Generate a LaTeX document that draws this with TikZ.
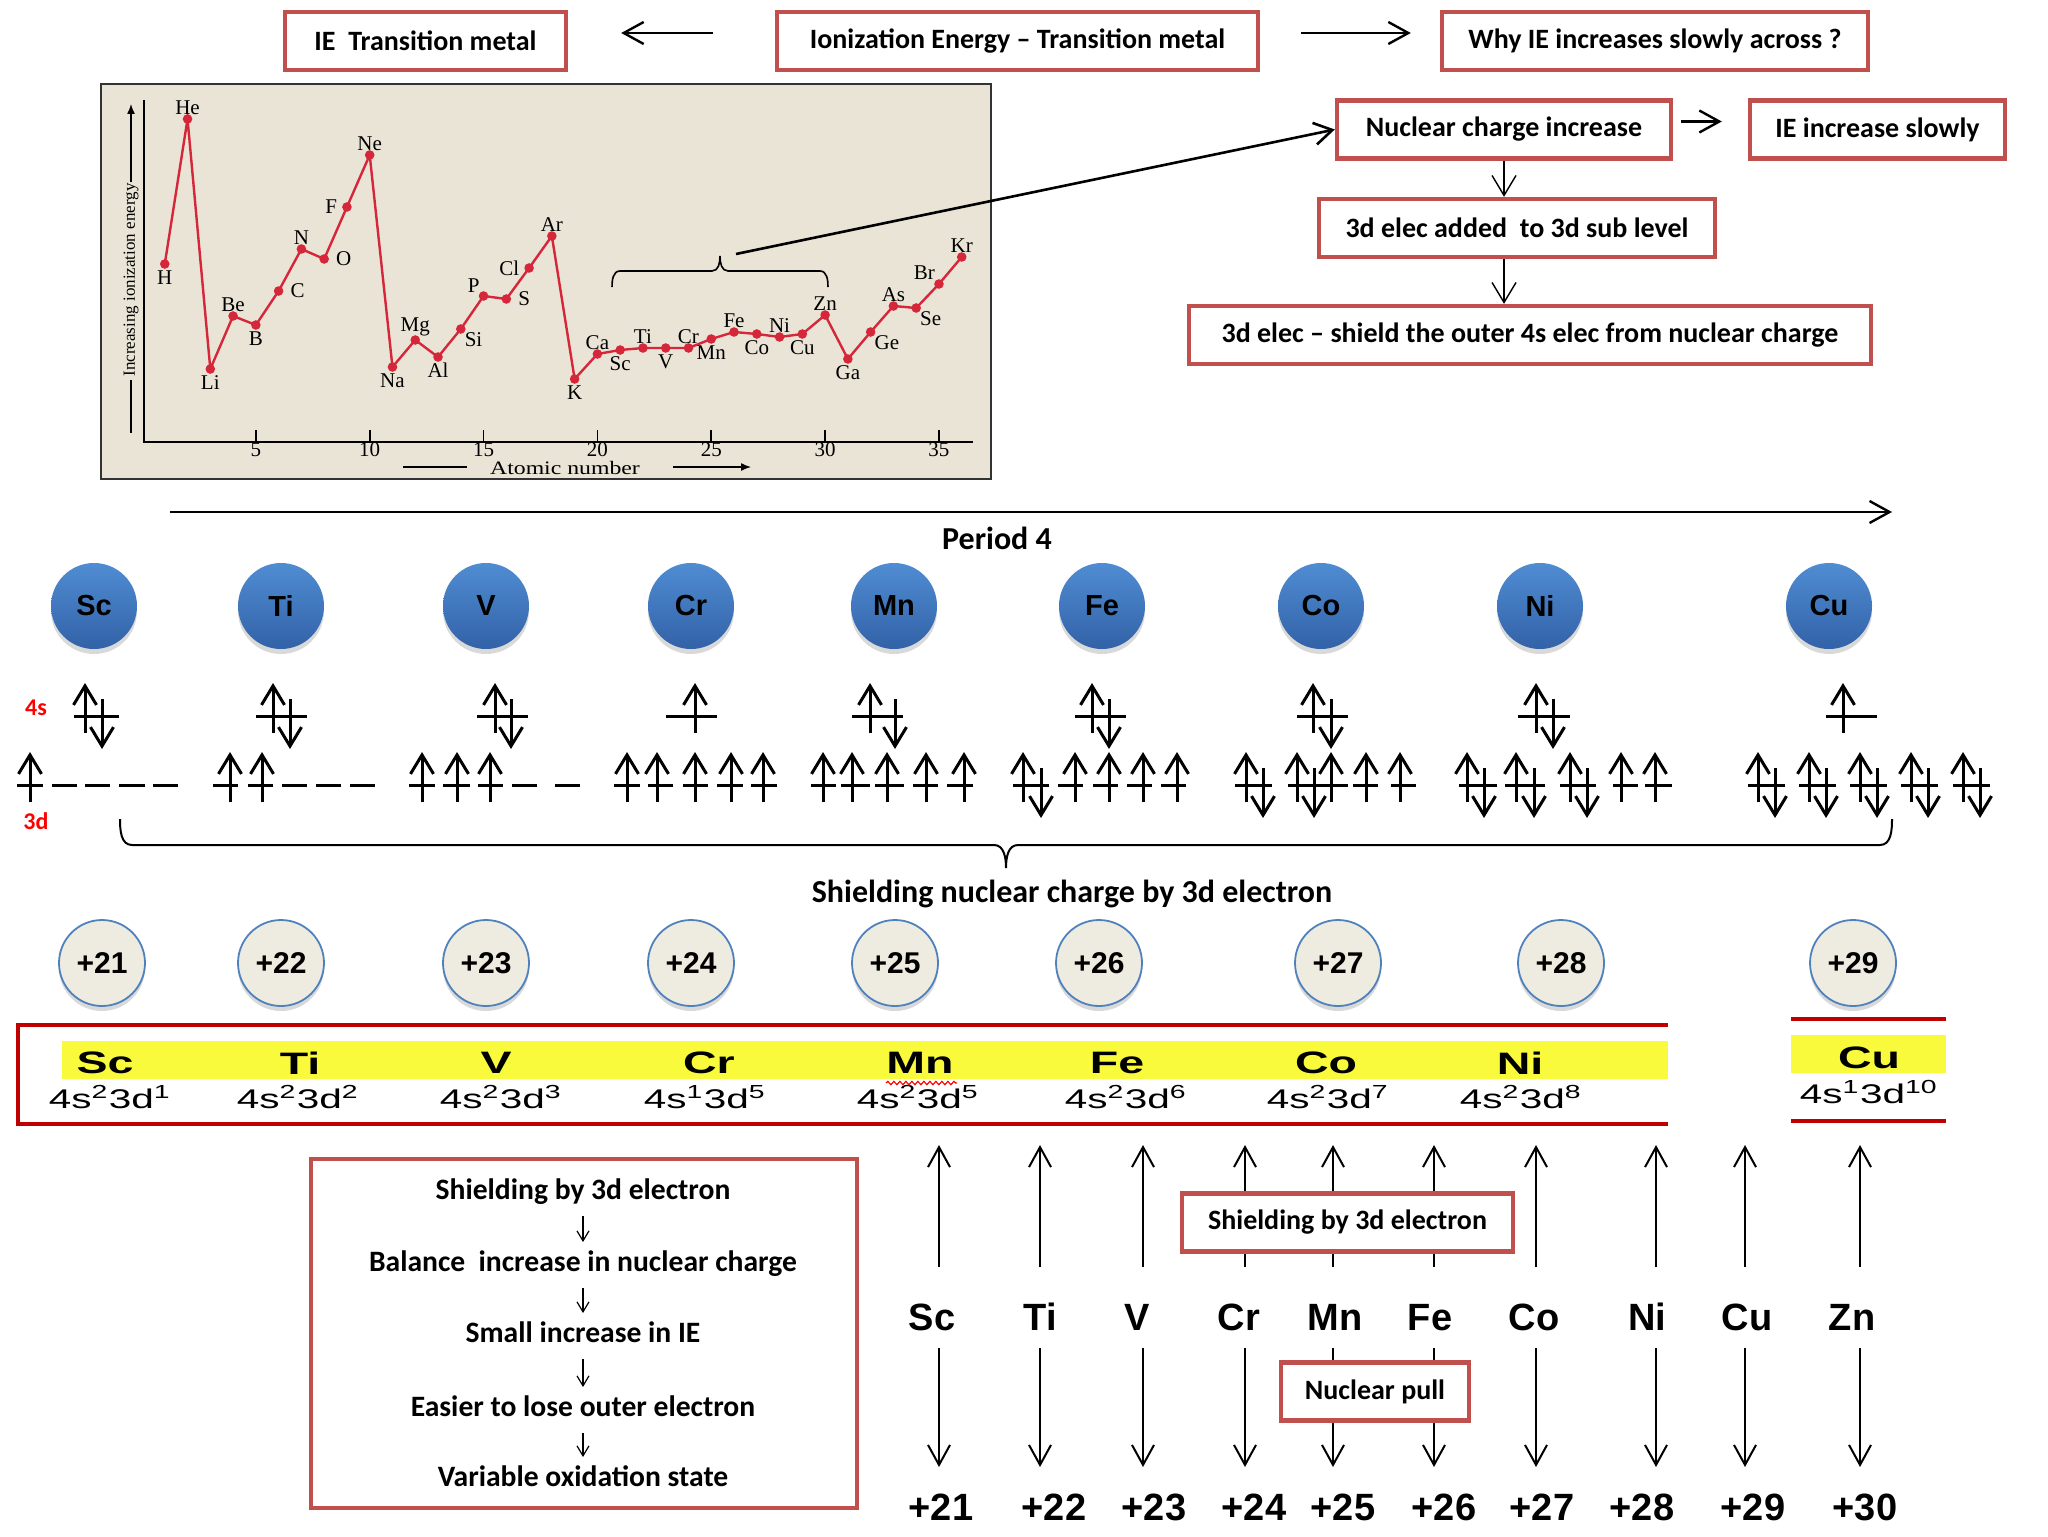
\documentclass[tikz,border=0pt]{standalone}
\usepackage{fontspec}
\setmainfont{Carlito}
\newfontfamily\arialf{Liberation Sans}
\newfontfamily\timesf{Liberation Serif}
\usepackage{graphicx}
\usetikzlibrary{arrows.meta,shadows,decorations.pathmorphing}
\definecolor{boxred}{RGB}{192,80,77}
\definecolor{cfgred}{RGB}{192,0,0}
\definecolor{cfgyellow}{RGB}{250,250,60}
\definecolor{chartbg}{RGB}{234,228,215}
\definecolor{ieline}{RGB}{214,38,58}
\definecolor{atomtop}{RGB}{80,140,210}
\definecolor{atombot}{RGB}{50,98,168}
\definecolor{chfill}{RGB}{238,236,225}
\definecolor{chblue}{RGB}{79,129,189}
\tikzset{
  redbox/.style={draw=boxred, line width=2.2pt, fill=white, inner sep=0pt,
    minimum height=29pt, font=\bfseries\fontsize{14}{16}\selectfont},
  toparrow/.style={line width=1.2pt, -{Straight Barb[length=10pt,width=11pt]}},
  chainarrow/.style={line width=0.7pt, -{Straight Barb[length=10pt,width=12pt]}},
  chartarrow/.style={line width=1.3pt, -{Straight Barb[length=9pt,width=11pt]}},
  level/.style={line width=1.5pt},
  spin/.style={line width=1.5pt, -{Straight Barb[length=9.5pt,width=11.5pt]}},
  atom/.style={circle, minimum size=43pt, inner sep=0pt, top color=atomtop,
    bottom color=atombot, draw=none,
    drop shadow={shadow xshift=0pt, shadow yshift=-2.5pt, opacity=0.3},
    font=\arialf\bfseries\fontsize{14.5}{16}\selectfont},
  charge/.style={circle, minimum size=43pt, inner sep=0pt, fill=chfill,
    draw=chblue, line width=0.9pt,
    drop shadow={shadow xshift=0pt, shadow yshift=-2.5pt, opacity=0.3},
    font=\arialf\bfseries\fontsize{15}{17}\selectfont},
  elabel/.style={font=\arialf\bfseries\fontsize{19}{21}\selectfont,
    inner sep=0pt, text height=13.6pt, text depth=0pt},
  longarrow/.style={line width=1pt, -{Straight Barb[length=10pt,width=11pt]}},
  flowtext/.style={font=\bfseries\fontsize{14.8}{16}\selectfont,
    inner sep=0pt, text height=9.5pt, text depth=0pt},
  smallarrow/.style={line width=0.6pt, -{Straight Barb[length=5pt,width=6pt]}},
  ptlabel/.style={font=\timesf\fontsize{10.5}{11}\selectfont, inner sep=0.8pt},
  ticklabel/.style={font=\timesf\fontsize{10.5}{11}\selectfont, inner sep=0pt},
  lblA/.style={above=1.2pt}, lblB/.style={below=2.2pt},
  lblR/.style={right=5pt}, lblL/.style={left=4pt},
  lblBR/.style={below right=1pt}, lblAL/.style={above left=1pt},
  cfgname/.style={font=\arialf\bfseries\fontsize{15.5}{17}\selectfont, inner sep=0pt},
  cfgtext/.style={font=\arialf\fontsize{13.5}{15}\selectfont, inner sep=0pt}
}
\newcommand{\lvl}[3]{\draw[level] (#1,#3) -- (#2,#3);}
\newcommand{\spinup}[2]{\draw[spin] (#1,#2+17) -- (#1,#2-33);}
\newcommand{\spindn}[2]{\draw[spin] (#1,#2-17) -- (#1,#2+33);}
\newcommand{\ecfg}[2]{4s\textsuperscript{#1}3d\textsuperscript{#2}}
\def\iedata{1/264/H/lblB, 2/119/He/lblA, 3/369/Li/lblB, 4/316/Be/lblA,
  5/325/B/lblB, 6/291/C/lblR, 7/249/N/lblA, 8/259/O/lblR, 9/207/F/lblL,
  10/155/Ne/lblA, 11/367/Na/lblB, 12/340/Mg/lblA, 13/357/Al/lblB,
  14/329/Si/lblBR, 15/296/P/lblAL, 16/299/S/lblR, 17/268/Cl/lblL,
  18/236/Ar/lblA, 19/379/K/lblB, 20/354/Ca/lblA, 21/350/Sc/lblB,
  22/348/Ti/lblA, 23/348/V/lblB, 24/348/Cr/lblA, 25/339/Mn/lblB,
  26/332/Fe/lblA, 27/334/Co/lblB, 28/337/Ni/lblA, 29/334/Cu/lblB,
  30/315/Zn/lblA, 31/359/Ga/lblB, 32/332/Ge/lblBR, 33/306/As/lblA,
  34/308/Se/lblBR, 35/284/Br/lblAL, 36/257/Kr/lblA}

\begin{document}
\begin{tikzpicture}[x=0.5pt, y=-0.5pt]
  \useasboundingbox (0,0) rectangle (2048,1536);

  % question chain at the top
  \node[redbox, minimum width=140.5pt] (ietm) at (425.5,41) {IE\ \ Transition metal};
  \node[redbox, minimum width=240.5pt] (ionz) at (1017.5,41) {Ionization Energy -- Transition metal};
  \node[redbox, minimum width=213pt] (why) at (1655,41) {Why IE increases slowly across ?};
  \draw[toparrow, shorten <=31pt, shorten >=26.5pt]
    ([yshift=4pt]ionz.west) -- ([yshift=4pt]ietm.east);
  \draw[toparrow, shorten <=20.5pt, shorten >=14.5pt]
    ([yshift=4pt]ionz.east) -- ([yshift=4pt]why.west);

  \node[redbox, minimum width=167pt] (nuc) at (1504,129.5) {Nuclear charge increase};
  \node[redbox, minimum width=127.5pt] (slow) at (1877.5,129.5) {IE increase slowly};
  \node[redbox, minimum width=198pt] (added) at (1517,228) {3d elec added\ \ to 3d sub level};
  \node[redbox, minimum width=341pt] (shield) at (1530,335)
    {3d elec -- shield the outer 4s elec from nuclear charge};
  \draw[toparrow, shorten <=4pt, shorten >=13pt]
    ([yshift=4pt]nuc.east) -- ([yshift=4pt]slow.west);
  \draw[chainarrow] (nuc.south) -- (nuc.south |- added.north);
  \draw[chainarrow] (nuc.south |- added.south) -- (nuc.south |- shield.north);

  % ionization energy chart
  \draw[black!80, line width=1pt, fill=chartbg] (101,84) rectangle (991,479);
  \draw[line width=0.9pt] (144,100) -- (144,442) -- (973,442);
  \foreach \t in {5,10,...,35}{
    \draw[line width=0.9pt] ({142+22.77*\t},430) -- ({142+22.77*\t},442);
    \node[ticklabel] at ({142+22.77*\t},450) {\t};
  }
  \node[font=\timesf\fontsize{9.5}{10}\selectfont, inner sep=0pt] (xlab) at (565,468)
    {\scalebox{1.25}[1]{Atomic number}};
  \draw[line width=0.7pt] (403,467) -- (467,467);
  \draw[line width=0.7pt, -{Latex[length=5pt,width=4pt]}] (673,467) -- (751,467);
  \node[rotate=90, font=\timesf\fontsize{8.5}{9}\selectfont] (ylab) at (131,280)
    {Increasing ionization energy};
  \draw[line width=0.7pt, -{Latex[length=5pt,width=4pt]}] (131,182) -- (131,104);
  \draw[line width=0.7pt] (131,380) -- (131,433);
  \foreach \z/\v/\el/\pos in \iedata
    \coordinate (p\z) at ({142+22.77*\z},\v);
  \draw[ieline, line width=1.2pt] (p1) \foreach \z in {2,...,36}{ -- (p\z) };
  \foreach \z/\v/\el/\pos in \iedata{
    \fill[ieline] (p\z) circle (2.4pt);
    \node[ptlabel,\pos] at (p\z) {\el};
  }
  \draw[line width=0.8pt] (612,287) to[out=90,in=180] (620,271) -- (712,271)
    to[out=0,in=-90] (720,256) to[out=-90,in=180] (728,271) -- (820,271)
    to[out=0,in=90] (828,287);
  \coordinate (bracetip) at (736,254);
  \draw[chartarrow] (bracetip) -- (nuc.west);

  % period 4 and the atoms
  \coordinate (pstart) at (170,512);
  \coordinate (pend) at (1892,512);
  \draw[line width=1.2pt, -{Straight Barb[length=10pt,width=11pt]}] (pstart) -- (pend);
  \node[font=\bfseries\fontsize{16}{18}\selectfont] (period) at (997,538) {Period 4};
  \foreach \el/\x in {Sc/94, Ti/281, V/486, Cr/691, Mn/894, Fe/1102, Co/1321, Ni/1540, Cu/1829}
    \node[atom] (atom\el) at (\x,606) {\el};

  % orbital boxes 4s and 3d
  \node[font=\bfseries\fontsize{12}{13}\selectfont, text=red] (lab4s) at (36,708) {4s};
  \node[font=\bfseries\fontsize{12}{13}\selectfont, text=red] (lab3d) at (36,821) {3d};
  % Sc
  \lvl{74}{119}{716} \spinup{85}{716} \spindn{102}{716}
  \lvl{17}{43}{785} \spinup{30}{785}
  \lvl{52}{77}{785} \lvl{85}{110}{785} \lvl{119}{145}{785} \lvl{153}{178}{785}
  % Ti
  \lvl{256}{307}{716} \spinup{273}{716} \spindn{290}{716}
  \lvl{213}{238}{785} \spinup{230}{785} \lvl{248}{273}{785} \spinup{262}{785}
  \lvl{282}{307}{785} \lvl{316}{341}{785} \lvl{350}{375}{785}
  % V
  \lvl{477}{528}{716} \spinup{495}{716} \spindn{511}{716}
  \lvl{409}{435}{785} \spinup{422}{785} \lvl{443}{470}{785} \spinup{457}{785}
  \lvl{478}{503}{785} \spinup{490}{785} \lvl{512}{537}{785} \lvl{555}{580}{785}
  % Cr
  \lvl{666}{717}{716} \spinup{695}{716}
  \lvl{614}{640}{785} \spinup{627}{785} \lvl{648}{673}{785} \spinup{657}{785}
  \lvl{683}{708}{785} \spinup{695}{785} \lvl{717}{743}{785} \spinup{731}{785}
  \lvl{751}{777}{785} \spinup{763}{785}
  % Mn
  \lvl{852}{903}{716} \spinup{870}{716} \spindn{895}{716}
  \lvl{811}{836}{785} \spinup{823}{785} \lvl{841}{870}{785} \spinup{852}{785}
  \lvl{875}{904}{785} \spinup{887}{785} \lvl{913}{938}{785} \spinup{926}{785}
  \lvl{947}{973}{785} \spinup{964}{785}
  % Fe
  \lvl{1075}{1126}{716} \spinup{1092}{716} \spindn{1109}{716}
  \lvl{1013}{1049}{785} \spinup{1023}{785} \spindn{1041}{785}
  \lvl{1058}{1083}{785} \spinup{1075}{785} \lvl{1093}{1118}{785} \spinup{1109}{785}
  \lvl{1127}{1152}{785} \spinup{1143}{785} \lvl{1161}{1186}{785} \spinup{1177}{785}
  % Co
  \lvl{1297}{1348}{716} \spinup{1313}{716} \spindn{1331}{716}
  \lvl{1235}{1272}{785} \spinup{1246}{785} \spindn{1263}{785}
  \lvl{1288}{1320}{785} \spinup{1297}{785} \spindn{1314}{785}
  \lvl{1320}{1348}{785} \spinup{1331}{785}
  \lvl{1353}{1378}{785} \spinup{1366}{785} \lvl{1391}{1416}{785} \spinup{1400}{785}
  % Ni
  \lvl{1518}{1570}{716} \spinup{1536}{716} \spindn{1553}{716}
  \lvl{1459}{1497}{785} \spinup{1467}{785} \spindn{1484}{785}
  \lvl{1505}{1545}{785} \spinup{1516}{785} \spindn{1534}{785}
  \lvl{1560}{1596}{785} \spinup{1570}{785} \spindn{1587}{785}
  \lvl{1613}{1638}{785} \spinup{1621}{785} \lvl{1645}{1672}{785} \spinup{1655}{785}
  % Cu
  \lvl{1826}{1877}{716} \spinup{1843}{716}
  \foreach \u in {1758,1809,1860,1911,1963}{
    \lvl{\u-10}{\u+27}{785} \spinup{\u}{785} \spindn{\u+17}{785}
  }
  \draw[line width=1pt] (120,819) to[out=-90,in=180] (132,845) -- (994,845)
    to[out=0,in=90] (1006,868) to[out=90,in=180] (1018,845) -- (1880,845)
    to[out=0,in=-90] (1892,819);
  \node[font=\bfseries\fontsize{16}{18}\selectfont] (shieldnote) at (1072,894)
    {Shielding nuclear charge by 3d electron};

  % nuclear charges
  \foreach \q/\x in {21/102, 22/281, 23/486, 24/691, 25/895, 26/1099, 27/1338, 28/1561, 29/1853}
    \node[charge] (z\q) at (\x,963) {+\q};

  % electron configurations
  \fill[cfgyellow] (62,1041) rectangle (1668,1079);
  \draw[cfgred, line width=2pt] (1668,1025) -- (18,1025) -- (18,1124) -- (1668,1124);
  \foreach \el/\a/\b/\lx/\cx in {Sc/2/1/105/110, Ti/2/2/300/298, V/2/3/496/501,
      Cr/1/5/709/705, Mn/2/5/920/918, Fe/2/6/1117/1126, Co/2/7/1326/1328, Ni/2/8/1520/1521}{
    \node[cfgname] (cn\el) at (\lx,1063) {\scalebox{1.5}[1]{\el}};
    \node[cfgtext] (cc\el) at (\cx,1097) {\scalebox{1.5}[1]{\ecfg{\a}{\b}}};
  }
  \draw[red, line width=0.6pt, decorate, decoration={snake, amplitude=0.8pt, segment length=3pt}]
    (886,1083) -- (957,1083);
  \fill[cfgyellow] (1791,1035) rectangle (1946,1073);
  \draw[cfgred, line width=2pt] (1791,1019) -- (1946,1019);
  \draw[cfgred, line width=2pt] (1791,1121) -- (1946,1121);
  \node[cfgname] (cnCu) at (1869,1058) {\scalebox{1.5}[1]{Cu}};
  \node[cfgtext] (ccCu) at (1869,1092) {\scalebox{1.5}[1]{\ecfg{1}{10}}};

  % flow of reasons
  \node[draw=boxred, line width=2.2pt, minimum width=273pt, minimum height=174.5pt] (flow)
    at (584,1333.5) {};
  \foreach \t/\y [count=\i] in {Shielding by 3d electron/1190,
      Balance\ \ increase in nuclear charge/1262, Small increase in IE/1333,
      Easier to lose outer electron/1407, Variable oxidation state/1477}
    \node[flowtext] (f\i) at (583,\y) {\t};
  \foreach \a/\b in {1/2,2/3,3/4,4/5}
    \draw[smallarrow, shorten <=13pt, shorten >=10pt] (f\a.center) -- (f\b.center);

  % shielding against nuclear pull
  \foreach \el/\lx/\ax/\q/\cx in {Sc/932/939/21/941, Ti/1040/1040/22/1054,
      V/1137/1143/23/1154, Cr/1239/1245/24/1254, Mn/1335/1333/25/1343,
      Fe/1430/1434/26/1444, Co/1534/1536/27/1542, Ni/1647/1656/28/1642,
      Cu/1747/1745/29/1753, Zn/1852/1860/30/1865}{
    \node[elabel] (el\el) at (\lx,1317) {\el};
    \node[elabel] (nc\q) at (\cx,1507) {+\q};
    \coordinate (top\el) at (\ax,1145);
    \draw[longarrow, shorten <=25pt] (top\el |- el\el.center) -- (top\el);
    \draw[longarrow, shorten <=15.5pt, shorten >=20pt]
      (top\el |- el\el.center) -- (top\el |- nc\q.center);
  }
  \node[redbox, minimum width=165.5pt] (shield3d) at (1347.5,1222.5) {Shielding by 3d electron};
  \node[redbox, minimum width=94pt] (pull) at (1375,1391.5) {Nuclear pull};
\end{tikzpicture}
\end{document}
